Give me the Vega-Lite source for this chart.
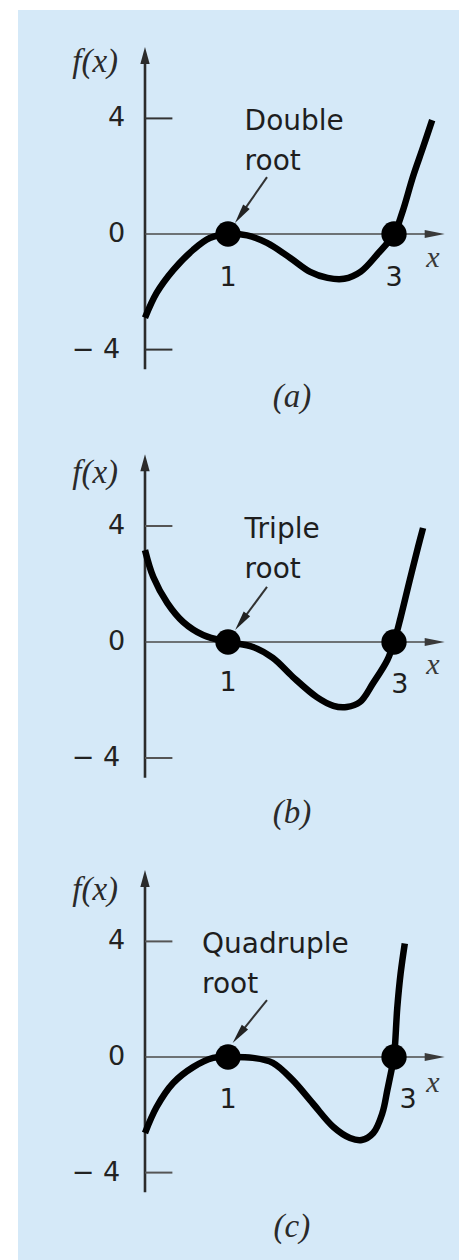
{
  "$schema": "https://vega.github.io/schema/vega-lite/v6.json",
  "background": "white",
  "padding": {"left": 18, "top": 10, "right": 0, "bottom": 0},
  "spacing": 0,
  "config": {
    "view": {"fill": "#d5e9f8", "stroke": null},
    "concat": {"spacing": 0}
  },
  "datasets": {
    "axes": [
      {"part": "yaxis", "x": 0, "y": -4.68, "x2": 0, "y2": 6.2},
      {"part": "xaxis", "x": 0, "y": 0, "x2": 3.5, "y2": 0},
      {"part": "tick", "x": 0, "y": 4, "x2": 0.33, "y2": 4},
      {"part": "tick", "x": 0, "y": -4, "x2": 0.33, "y2": -4}
    ],
    "tips": [
      {"part": "up", "x": 0, "y": 6.18},
      {"part": "right", "x": 3.49, "y": 0}
    ],
    "ticklabels": [
      {"text": "4", "x": -0.24, "y": 4},
      {"text": "0", "x": -0.24, "y": 0},
      {"text": "− 4", "x": -0.3, "y": -4}
    ],
    "curves": [
      {"panel": "a", "x": 0.0, "y": -2.9},
      {"panel": "a", "x": 0.14, "y": -2.04},
      {"panel": "a", "x": 0.34, "y": -1.25},
      {"panel": "a", "x": 0.58, "y": -0.55},
      {"panel": "a", "x": 0.78, "y": -0.14},
      {"panel": "a", "x": 1.0, "y": 0.0},
      {"panel": "a", "x": 1.23, "y": -0.05},
      {"panel": "a", "x": 1.47, "y": -0.31},
      {"panel": "a", "x": 1.75, "y": -0.83},
      {"panel": "a", "x": 1.99, "y": -1.31},
      {"panel": "a", "x": 2.2, "y": -1.52},
      {"panel": "a", "x": 2.4, "y": -1.55},
      {"panel": "a", "x": 2.6, "y": -1.3},
      {"panel": "a", "x": 2.8, "y": -0.7},
      {"panel": "a", "x": 3.0, "y": 0.0},
      {"panel": "a", "x": 3.1, "y": 0.75},
      {"panel": "a", "x": 3.23, "y": 2.0},
      {"panel": "a", "x": 3.35, "y": 3.0},
      {"panel": "a", "x": 3.46, "y": 3.94},

      {"panel": "b", "x": 0.0, "y": 3.17},
      {"panel": "b", "x": 0.1, "y": 2.24},
      {"panel": "b", "x": 0.27, "y": 1.34},
      {"panel": "b", "x": 0.46, "y": 0.69},
      {"panel": "b", "x": 0.7, "y": 0.24},
      {"panel": "b", "x": 1.0, "y": 0.0},
      {"panel": "b", "x": 1.3, "y": -0.17},
      {"panel": "b", "x": 1.54, "y": -0.55},
      {"panel": "b", "x": 1.78, "y": -1.2},
      {"panel": "b", "x": 2.07, "y": -1.9},
      {"panel": "b", "x": 2.27, "y": -2.2},
      {"panel": "b", "x": 2.43, "y": -2.24},
      {"panel": "b", "x": 2.59, "y": -2.07},
      {"panel": "b", "x": 2.75, "y": -1.41},
      {"panel": "b", "x": 2.92, "y": -0.62},
      {"panel": "b", "x": 3.0, "y": 0.0},
      {"panel": "b", "x": 3.08, "y": 0.85},
      {"panel": "b", "x": 3.19, "y": 2.14},
      {"panel": "b", "x": 3.29, "y": 3.28},
      {"panel": "b", "x": 3.35, "y": 3.93},

      {"panel": "c", "x": 0.0, "y": -2.63},
      {"panel": "c", "x": 0.14, "y": -1.73},
      {"panel": "c", "x": 0.34, "y": -0.9},
      {"panel": "c", "x": 0.58, "y": -0.35},
      {"panel": "c", "x": 0.82, "y": -0.03},
      {"panel": "c", "x": 1.0, "y": 0.0},
      {"panel": "c", "x": 1.3, "y": -0.03},
      {"panel": "c", "x": 1.54, "y": -0.2},
      {"panel": "c", "x": 1.78, "y": -0.8},
      {"panel": "c", "x": 2.02, "y": -1.6},
      {"panel": "c", "x": 2.27, "y": -2.42},
      {"panel": "c", "x": 2.47, "y": -2.8},
      {"panel": "c", "x": 2.61, "y": -2.87},
      {"panel": "c", "x": 2.75, "y": -2.63},
      {"panel": "c", "x": 2.86, "y": -1.94},
      {"panel": "c", "x": 2.92, "y": -1.14},
      {"panel": "c", "x": 2.97, "y": -0.45},
      {"panel": "c", "x": 3.0, "y": 0.0},
      {"panel": "c", "x": 3.04, "y": 1.73},
      {"panel": "c", "x": 3.08, "y": 2.9},
      {"panel": "c", "x": 3.13, "y": 3.93}
    ],
    "roots": [
      {"panel": "a", "x": 1, "y": 0},
      {"panel": "a", "x": 3, "y": 0},
      {"panel": "b", "x": 1, "y": 0},
      {"panel": "b", "x": 3, "y": 0},
      {"panel": "c", "x": 1, "y": 0},
      {"panel": "c", "x": 3, "y": 0}
    ],
    "pointers": [
      {"panel": "a", "x": 1.47, "y": 1.97, "x2": 1.153, "y2": 0.66},
      {"panel": "b", "x": 1.47, "y": 1.9, "x2": 1.157, "y2": 0.69},
      {"panel": "c", "x": 1.47, "y": 1.97, "x2": 1.13, "y2": 0.76}
    ],
    "heads": [
      {"panel": "a", "x": 1.153, "y": 0.66},
      {"panel": "b", "x": 1.157, "y": 0.69},
      {"panel": "c", "x": 1.13, "y": 0.76}
    ],
    "labels": [
      {"panel": "a", "kind": "note", "text": "Double", "x": 1.2, "y": 3.88},
      {"panel": "a", "kind": "note", "text": "root", "x": 1.2, "y": 2.49},
      {"panel": "a", "kind": "num", "text": "1", "x": 1.0, "y": -1.52},
      {"panel": "a", "kind": "num", "text": "3", "x": 3.0, "y": -1.52},
      {"panel": "a", "kind": "math", "text": "f(x)", "x": -0.6, "y": 5.95},
      {"panel": "a", "kind": "var", "text": "x", "x": 3.47, "y": -0.83},
      {"panel": "a", "kind": "math", "text": "(a)", "x": 1.77, "y": -5.64},

      {"panel": "b", "kind": "note", "text": "Triple", "x": 1.2, "y": 3.86},
      {"panel": "b", "kind": "note", "text": "root", "x": 1.2, "y": 2.48},
      {"panel": "b", "kind": "num", "text": "1", "x": 1.0, "y": -1.41},
      {"panel": "b", "kind": "num", "text": "3", "x": 3.07, "y": -1.48},
      {"panel": "b", "kind": "math", "text": "f(x)", "x": -0.6, "y": 5.83},
      {"panel": "b", "kind": "var", "text": "x", "x": 3.47, "y": -0.8},
      {"panel": "b", "kind": "math", "text": "(b)", "x": 1.77, "y": -5.9},

      {"panel": "c", "kind": "note", "text": "Quadruple", "x": 0.687, "y": 3.88},
      {"panel": "c", "kind": "note", "text": "root", "x": 0.687, "y": 2.49},
      {"panel": "c", "kind": "num", "text": "1", "x": 1.0, "y": -1.49},
      {"panel": "c", "kind": "num", "text": "3", "x": 3.17, "y": -1.49},
      {"panel": "c", "kind": "math", "text": "f(x)", "x": -0.6, "y": 5.78},
      {"panel": "c", "kind": "var", "text": "x", "x": 3.47, "y": -0.9},
      {"panel": "c", "kind": "math", "text": "(c)", "x": 1.77, "y": -5.88}
    ]
  },
  "vconcat": [
    {
      "width": 441,
      "height": 417,
      "encoding": {
        "x": {"field": "x", "type": "quantitative", "scale": {"domain": [-1.53, 3.783], "nice": false, "zero": false}, "axis": null},
        "y": {"field": "y", "type": "quantitative", "scale": {"domain": [-6.678, 7.751], "nice": false, "zero": false}, "axis": null}
      },
      "layer": [
        {"data": {"name": "axes"}, "transform": [{"filter": "datum.part === 'yaxis'"}], "mark": {"type": "rule", "color": "#2b2b2b", "strokeWidth": 2.6}, "encoding": {"x2": {"field": "x2"}, "y2": {"field": "y2"}}},
        {"data": {"name": "axes"}, "transform": [{"filter": "datum.part === 'xaxis'"}], "mark": {"type": "rule", "color": "#4a4a4a", "strokeWidth": 1.7}, "encoding": {"x2": {"field": "x2"}, "y2": {"field": "y2"}}},
        {"data": {"name": "axes"}, "transform": [{"filter": "datum.part === 'tick'"}], "mark": {"type": "rule", "color": "#333333", "strokeWidth": 2}, "encoding": {"x2": {"field": "x2"}, "y2": {"field": "y2"}}},
        {"data": {"name": "tips"}, "transform": [{"filter": "datum.part === 'up'"}], "mark": {"type": "point", "shape": "M0,-1L0.55,1L-0.55,1Z", "filled": true, "color": "#2b2b2b", "opacity": 1, "size": 289}},
        {"data": {"name": "tips"}, "transform": [{"filter": "datum.part === 'right'"}], "mark": {"type": "point", "shape": "M1,0L-1,-0.4L-1,0.4Z", "filled": true, "color": "#3a3a3a", "opacity": 1, "size": 400}},
        {"data": {"name": "ticklabels"}, "mark": {"type": "text", "align": "right", "baseline": "middle", "font": "DejaVu Sans", "fontSize": 27, "color": "#222222"}, "encoding": {"text": {"field": "text"}}},
        {"data": {"name": "curves"}, "transform": [{"filter": "datum.panel === 'a'"}], "mark": {"type": "line", "color": "black", "strokeWidth": 6.5, "interpolate": "catmull-rom"}},
        {"data": {"name": "roots"}, "transform": [{"filter": "datum.panel === 'a'"}], "mark": {"type": "point", "shape": "circle", "filled": true, "color": "black", "opacity": 1, "size": 640}},
        {"data": {"name": "pointers"}, "transform": [{"filter": "datum.panel === 'a'"}], "mark": {"type": "rule", "color": "#333333", "strokeWidth": 2}, "encoding": {"x2": {"field": "x2"}, "y2": {"field": "y2"}}},
        {"data": {"name": "heads"}, "transform": [{"filter": "datum.panel === 'a'"}], "mark": {"type": "point", "shape": "M0,-1L0.4,1L-0.4,1Z", "angle": 215, "filled": true, "color": "#222222", "opacity": 1, "size": 400}},
        {"data": {"name": "labels"}, "transform": [{"filter": "datum.panel === 'a' && datum.kind === 'note'"}], "mark": {"type": "text", "align": "left", "baseline": "middle", "font": "DejaVu Sans", "fontSize": 28, "color": "#1e1e1e"}, "encoding": {"text": {"field": "text"}}},
        {"data": {"name": "labels"}, "transform": [{"filter": "datum.panel === 'a' && datum.kind === 'num'"}], "mark": {"type": "text", "align": "center", "baseline": "middle", "font": "DejaVu Sans", "fontSize": 27, "color": "#1e1e1e"}, "encoding": {"text": {"field": "text"}}},
        {"data": {"name": "labels"}, "transform": [{"filter": "datum.panel === 'a' && datum.kind === 'math'"}], "mark": {"type": "text", "align": "center", "baseline": "middle", "font": "Liberation Serif", "fontStyle": "italic", "fontSize": 33, "color": "#2a2a2a"}, "encoding": {"text": {"field": "text"}}},
        {"data": {"name": "labels"}, "transform": [{"filter": "datum.panel === 'a' && datum.kind === 'var'"}], "mark": {"type": "text", "align": "center", "baseline": "middle", "font": "Liberation Serif", "fontStyle": "italic", "fontSize": 30, "color": "#3a3a3a"}, "encoding": {"text": {"field": "text"}}}
      ]
    },
    {
      "width": 441,
      "height": 416,
      "encoding": {
        "x": {"field": "x", "type": "quantitative", "scale": {"domain": [-1.53, 3.783], "nice": false, "zero": false}, "axis": null},
        "y": {"field": "y", "type": "quantitative", "scale": {"domain": [-6.931, 7.414], "nice": false, "zero": false}, "axis": null}
      },
      "layer": [
        {"data": {"name": "axes"}, "transform": [{"filter": "datum.part === 'yaxis'"}], "mark": {"type": "rule", "color": "#2b2b2b", "strokeWidth": 2.6}, "encoding": {"x2": {"field": "x2"}, "y2": {"field": "y2"}}},
        {"data": {"name": "axes"}, "transform": [{"filter": "datum.part === 'xaxis'"}], "mark": {"type": "rule", "color": "#4a4a4a", "strokeWidth": 1.7}, "encoding": {"x2": {"field": "x2"}, "y2": {"field": "y2"}}},
        {"data": {"name": "axes"}, "transform": [{"filter": "datum.part === 'tick'"}], "mark": {"type": "rule", "color": "#555555", "strokeWidth": 2}, "encoding": {"x2": {"field": "x2"}, "y2": {"field": "y2"}}},
        {"data": {"name": "tips"}, "transform": [{"filter": "datum.part === 'up'"}], "mark": {"type": "point", "shape": "M0,-1L0.55,1L-0.55,1Z", "filled": true, "color": "#2b2b2b", "opacity": 1, "size": 289}},
        {"data": {"name": "tips"}, "transform": [{"filter": "datum.part === 'right'"}], "mark": {"type": "point", "shape": "M1,0L-1,-0.4L-1,0.4Z", "filled": true, "color": "#3a3a3a", "opacity": 1, "size": 400}},
        {"data": {"name": "ticklabels"}, "mark": {"type": "text", "align": "right", "baseline": "middle", "font": "DejaVu Sans", "fontSize": 27, "color": "#222222"}, "encoding": {"text": {"field": "text"}}},
        {"data": {"name": "curves"}, "transform": [{"filter": "datum.panel === 'b'"}], "mark": {"type": "line", "color": "black", "strokeWidth": 6.5, "interpolate": "catmull-rom"}},
        {"data": {"name": "roots"}, "transform": [{"filter": "datum.panel === 'b'"}], "mark": {"type": "point", "shape": "circle", "filled": true, "color": "black", "opacity": 1, "size": 640}},
        {"data": {"name": "pointers"}, "transform": [{"filter": "datum.panel === 'b'"}], "mark": {"type": "rule", "color": "#333333", "strokeWidth": 2}, "encoding": {"x2": {"field": "x2"}, "y2": {"field": "y2"}}},
        {"data": {"name": "heads"}, "transform": [{"filter": "datum.panel === 'b'"}], "mark": {"type": "point", "shape": "M0,-1L0.4,1L-0.4,1Z", "angle": 216, "filled": true, "color": "#222222", "opacity": 1, "size": 400}},
        {"data": {"name": "labels"}, "transform": [{"filter": "datum.panel === 'b' && datum.kind === 'note'"}], "mark": {"type": "text", "align": "left", "baseline": "middle", "font": "DejaVu Sans", "fontSize": 28, "color": "#1e1e1e"}, "encoding": {"text": {"field": "text"}}},
        {"data": {"name": "labels"}, "transform": [{"filter": "datum.panel === 'b' && datum.kind === 'num'"}], "mark": {"type": "text", "align": "center", "baseline": "middle", "font": "DejaVu Sans", "fontSize": 27, "color": "#1e1e1e"}, "encoding": {"text": {"field": "text"}}},
        {"data": {"name": "labels"}, "transform": [{"filter": "datum.panel === 'b' && datum.kind === 'math'"}], "mark": {"type": "text", "align": "center", "baseline": "middle", "font": "Liberation Serif", "fontStyle": "italic", "fontSize": 33, "color": "#2a2a2a"}, "encoding": {"text": {"field": "text"}}},
        {"data": {"name": "labels"}, "transform": [{"filter": "datum.panel === 'b' && datum.kind === 'var'"}], "mark": {"type": "text", "align": "center", "baseline": "middle", "font": "Liberation Serif", "fontStyle": "italic", "fontSize": 30, "color": "#3a3a3a"}, "encoding": {"text": {"field": "text"}}}
      ]
    },
    {
      "width": 441,
      "height": 417,
      "encoding": {
        "x": {"field": "x", "type": "quantitative", "scale": {"domain": [-1.53, 3.783], "nice": false, "zero": false}, "axis": null},
        "y": {"field": "y", "type": "quantitative", "scale": {"domain": [-7.024, 7.405], "nice": false, "zero": false}, "axis": null}
      },
      "layer": [
        {"data": {"name": "axes"}, "transform": [{"filter": "datum.part === 'yaxis'"}], "mark": {"type": "rule", "color": "#2b2b2b", "strokeWidth": 2.6}, "encoding": {"x2": {"field": "x2"}, "y2": {"field": "y2"}}},
        {"data": {"name": "axes"}, "transform": [{"filter": "datum.part === 'xaxis'"}], "mark": {"type": "rule", "color": "#4a4a4a", "strokeWidth": 1.7}, "encoding": {"x2": {"field": "x2"}, "y2": {"field": "y2"}}},
        {"data": {"name": "axes"}, "transform": [{"filter": "datum.part === 'tick'"}], "mark": {"type": "rule", "color": "#555555", "strokeWidth": 2}, "encoding": {"x2": {"field": "x2"}, "y2": {"field": "y2"}}},
        {"data": {"name": "tips"}, "transform": [{"filter": "datum.part === 'up'"}], "mark": {"type": "point", "shape": "M0,-1L0.55,1L-0.55,1Z", "filled": true, "color": "#2b2b2b", "opacity": 1, "size": 289}},
        {"data": {"name": "tips"}, "transform": [{"filter": "datum.part === 'right'"}], "mark": {"type": "point", "shape": "M1,0L-1,-0.4L-1,0.4Z", "filled": true, "color": "#3a3a3a", "opacity": 1, "size": 400}},
        {"data": {"name": "ticklabels"}, "mark": {"type": "text", "align": "right", "baseline": "middle", "font": "DejaVu Sans", "fontSize": 27, "color": "#222222"}, "encoding": {"text": {"field": "text"}}},
        {"data": {"name": "curves"}, "transform": [{"filter": "datum.panel === 'c'"}], "mark": {"type": "line", "color": "black", "strokeWidth": 6.5, "interpolate": "catmull-rom"}},
        {"data": {"name": "roots"}, "transform": [{"filter": "datum.panel === 'c'"}], "mark": {"type": "point", "shape": "circle", "filled": true, "color": "black", "opacity": 1, "size": 640}},
        {"data": {"name": "pointers"}, "transform": [{"filter": "datum.panel === 'c'"}], "mark": {"type": "rule", "color": "#333333", "strokeWidth": 2}, "encoding": {"x2": {"field": "x2"}, "y2": {"field": "y2"}}},
        {"data": {"name": "heads"}, "transform": [{"filter": "datum.panel === 'c'"}], "mark": {"type": "point", "shape": "M0,-1L0.4,1L-0.4,1Z", "angle": 218, "filled": true, "color": "#222222", "opacity": 1, "size": 400}},
        {"data": {"name": "labels"}, "transform": [{"filter": "datum.panel === 'c' && datum.kind === 'note'"}], "mark": {"type": "text", "align": "left", "baseline": "middle", "font": "DejaVu Sans", "fontSize": 28, "color": "#1e1e1e"}, "encoding": {"text": {"field": "text"}}},
        {"data": {"name": "labels"}, "transform": [{"filter": "datum.panel === 'c' && datum.kind === 'num'"}], "mark": {"type": "text", "align": "center", "baseline": "middle", "font": "DejaVu Sans", "fontSize": 27, "color": "#1e1e1e"}, "encoding": {"text": {"field": "text"}}},
        {"data": {"name": "labels"}, "transform": [{"filter": "datum.panel === 'c' && datum.kind === 'math'"}], "mark": {"type": "text", "align": "center", "baseline": "middle", "font": "Liberation Serif", "fontStyle": "italic", "fontSize": 33, "color": "#2a2a2a"}, "encoding": {"text": {"field": "text"}}},
        {"data": {"name": "labels"}, "transform": [{"filter": "datum.panel === 'c' && datum.kind === 'var'"}], "mark": {"type": "text", "align": "center", "baseline": "middle", "font": "Liberation Serif", "fontStyle": "italic", "fontSize": 30, "color": "#3a3a3a"}, "encoding": {"text": {"field": "text"}}}
      ]
    }
  ]
}
